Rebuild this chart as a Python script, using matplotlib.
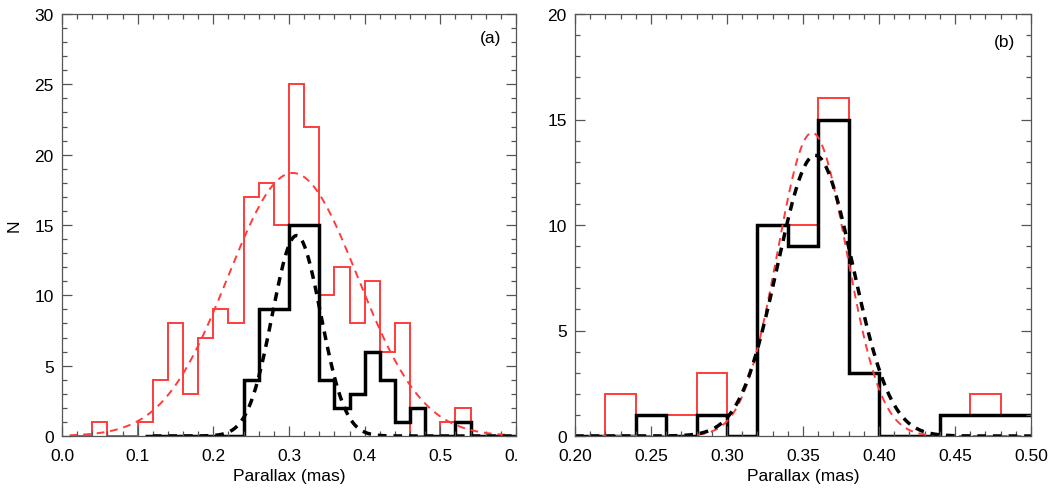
import numpy as np
import matplotlib
matplotlib.use("Agg")
import matplotlib.pyplot as plt
from matplotlib.ticker import MultipleLocator
from matplotlib.transforms import Bbox

plt.rcParams['font.family'] = ['Liberation Sans', 'DejaVu Sans']

# ---------------- data: panel (a) ----------------
bin_width = 0.02
edges_a = np.round(np.arange(0.0, 0.6001, bin_width), 3)          # 31 edges, 30 bins
red_a = [0, 0, 1, 0, 0, 1, 4, 8, 3, 7, 9, 8, 17, 18, 15, 25, 22,
         10, 12, 8, 11, 6, 8, 0, 0, 1, 2, 0, 0, 0]
black_a = [0, 0, 0, 0, 0, 0, 0, 0, 0, 0, 0, 0, 4, 9, 9, 15, 15,
           4, 2, 3, 6, 4, 1, 2, 0, 0, 1, 0, 0, 0]
red_a_start = 0.01
black_a_start = 0.11
fit_red_a = dict(amp=18.7, mu=0.305, sigma=0.0855, x0=0.01, x1=0.59)
fit_black_a = dict(amp=14.25, mu=0.310, sigma=0.032, x0=0.12, x1=0.60)
xticklabels_a = ['0.0', '0.1', '0.2', '0.3', '0.4', '0.5', '0.6']

# ---------------- data: panel (b) ----------------
edges_b = np.round(np.arange(0.20, 0.5001, bin_width), 3)         # 16 edges, 15 bins
red_b = [0, 2, 1, 1, 3, 0, 10, 10, 16, 3, 0, 0, 1, 2, 1]
black_b = [0, 0, 1, 0, 1, 0, 10, 9, 15, 3, 0, 0, 1, 1, 1]
fit_red_b = dict(amp=14.37, mu=0.356, sigma=0.0228, x0=0.20, x1=0.50)
fit_black_b = dict(amp=13.3, mu=0.358, sigma=0.0248, x0=0.20, x1=0.50)
xticklabels_b = ['0.20', '0.25', '0.30', '0.35', '0.40', '0.45', '0.50']

RED = '#ff3b3b'
W, H = 1057, 489
fig = plt.figure(figsize=(W / 100, H / 100), dpi=100)

axA = fig.add_axes([62 / W, 1 - 437 / H, 454 / W, 422 / H])
axB = fig.add_axes([575 / W, 1 - 437 / H, 456 / W, 422 / H])


def gauss(p, n=400):
    x = np.linspace(p['x0'], p['x1'], n)
    return x, p['amp'] * np.exp(-0.5 * ((x - p['mu']) / p['sigma']) ** 2)


def style(ax, xmaj, xmin, ymaj, ymin):
    ax.xaxis.set_major_locator(MultipleLocator(xmaj))
    ax.xaxis.set_minor_locator(MultipleLocator(xmin))
    ax.yaxis.set_major_locator(MultipleLocator(ymaj))
    ax.yaxis.set_minor_locator(MultipleLocator(ymin))
    ax.tick_params(which='both', direction='in', top=True, right=True,
                   color='#555555', labelsize=12.5, width=0.9)
    ax.tick_params(which='major', length=7.5)
    ax.tick_params(which='minor', length=3.8)
    ax.tick_params(axis='x', pad=9)
    ax.tick_params(axis='y', pad=6)
    for s in ax.spines.values():
        s.set_color('#555555')
        s.set_linewidth(0.9)
    ax.set_xlabel('Parallax (mas)', fontsize=12.5, labelpad=3)


# ---- panel (a) ----
ea_red = edges_a.copy()
ea_red[0] = red_a_start
axA.stairs(red_a, ea_red, color=RED, lw=1.4, baseline=None)
x, y = gauss(fit_red_a)
axA.plot(x, y, color=RED, lw=1.4, ls=(0, (4, 3)))
ia = int(round(black_a_start / bin_width - 0.5))
eb = edges_a[ia:].copy()
eb[0] = black_a_start
axA.stairs(black_a[ia:], eb, color='black', lw=2.5, baseline=None)
x, y = gauss(fit_black_a)
axA.plot(x, y, color='black', lw=2.5, ls=(0, (2.5, 2)))
axA.set_xlim(0.0, 0.6)
axA.set_ylim(0, 30)
style(axA, 0.1, 0.02, 5, 1)
axA.set_xticks(np.round(np.arange(0, 0.601, 0.1), 2))
axA.set_xticklabels(xticklabels_a)
axA.set_ylabel('N', fontsize=12.5, labelpad=9)
axA.text(0.945, 0.945, '(a)', transform=axA.transAxes, ha='center', va='center', fontsize=12.5)

# ---- panel (b) ----
axB.stairs(red_b, edges_b, color=RED, lw=1.4, baseline=None)
axB.stairs(black_b, edges_b, color='black', lw=2.5, baseline=None)
x, y = gauss(fit_red_b)
axB.plot(x, y, color=RED, lw=1.4, ls=(0, (4, 3)))
x, y = gauss(fit_black_b)
axB.plot(x, y, color='black', lw=2.5, ls=(0, (2.5, 2)))
axB.set_xlim(0.2, 0.5)
axB.set_ylim(0, 20)
style(axB, 0.05, 0.01, 5, 1)
axB.set_xticks(np.round(np.arange(0.2, 0.5001, 0.05), 2))
axB.set_xticklabels(xticklabels_b)
axB.text(0.941, 0.936, '(b)', transform=axB.transAxes, ha='center', va='center', fontsize=12.5)

# clip the last tick label of panel (a) as in the reference
clip = Bbox.from_extents(0, 0, 518, H)
for lab in axA.get_xticklabels():
    lab.set_clip_box(clip)
    lab.set_clip_on(True)

fig.savefig('out.png', dpi=100)
